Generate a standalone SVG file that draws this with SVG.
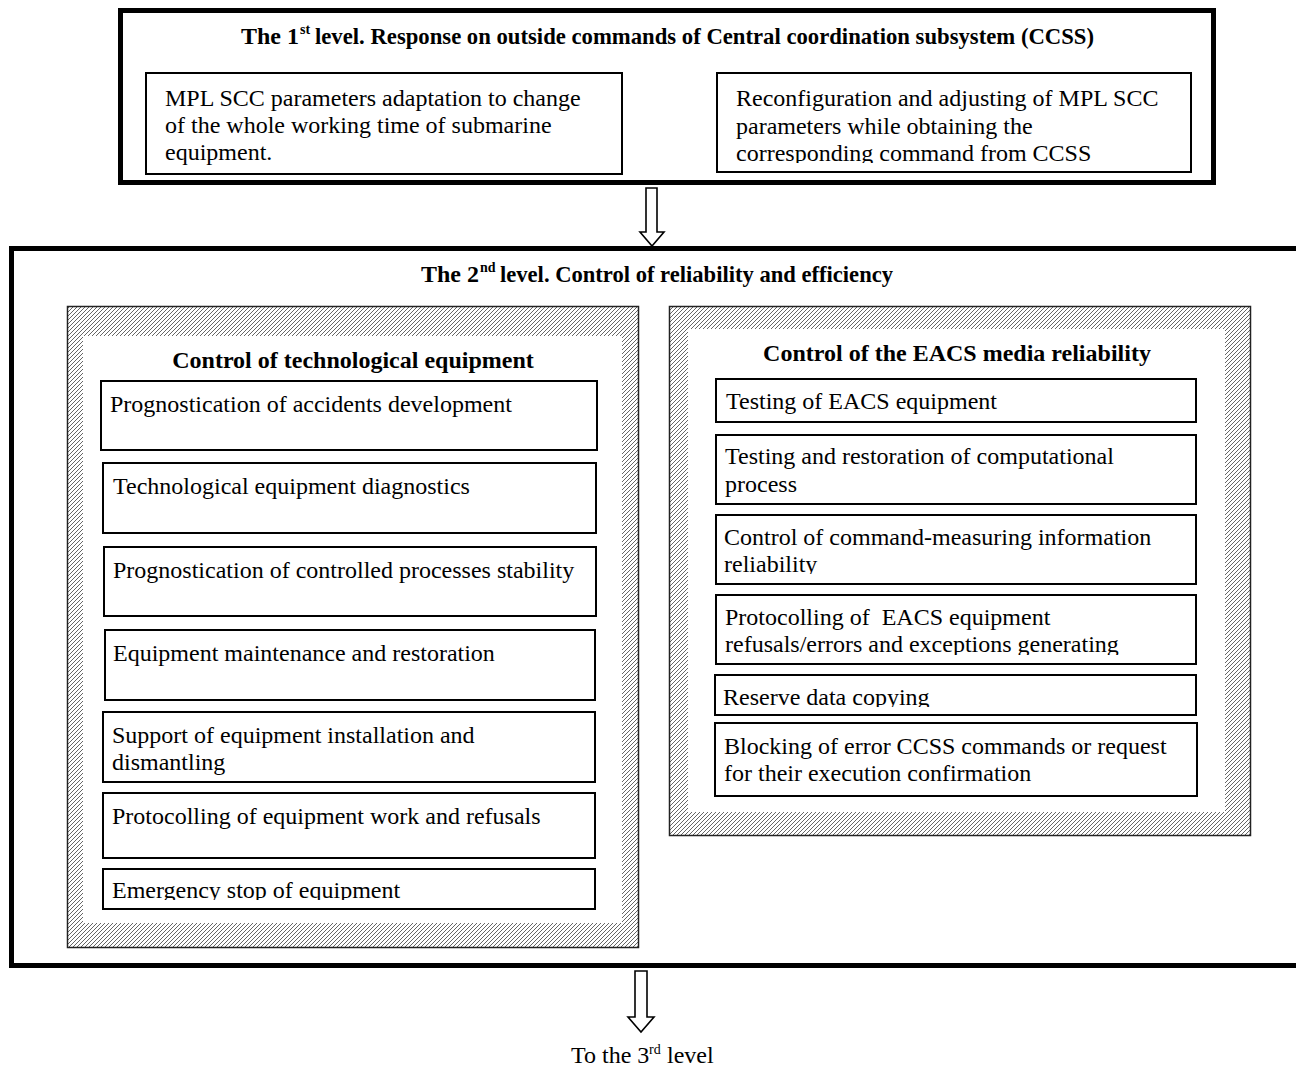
<svg xmlns="http://www.w3.org/2000/svg" width="1296" height="1066" viewBox="0 0 1296 1066">
<defs>
<style>
text{font-family:"Liberation Serif","Times New Roman",serif;fill:#000}
.t{font-size:24px}
.b{font-weight:bold;font-size:24px}
.sup{font-size:14px}
.lvl{fill:none;stroke:#000;stroke-width:5}
.box{fill:#fff;stroke:#000;stroke-width:2}
.panel{fill:url(#hatch);stroke:#222;stroke-width:1.5}
.inner{fill:#fff;stroke:none}
.arrow{fill:#fff;stroke:#000;stroke-width:1.6;stroke-linejoin:miter}
</style>
<pattern id="hatch" patternUnits="userSpaceOnUse" width="4" height="4">
<rect width="4" height="4" fill="#fff"/>
<path d="M-1,1 L1,-1 M0,4 L4,0 M3,5 L5,3" stroke="#555" stroke-width="0.9"/>
</pattern>
<clipPath id="c1"><rect x="700" y="60" width="500" height="103"/></clipPath>
<clipPath id="c2"><rect x="700" y="520" width="500" height="54"/></clipPath>
<clipPath id="c3"><rect x="700" y="600" width="500" height="55"/></clipPath>
<clipPath id="c4"><rect x="700" y="680" width="500" height="27"/></clipPath>
<clipPath id="c5"><rect x="90" y="870" width="510" height="30"/></clipPath>
</defs>
<rect width="1296" height="1066" fill="#fff"/>

<g id="level1">
<rect class="lvl" x="120.5" y="10.5" width="1093" height="172"/>
<text class="b" x="241" y="44">The 1</text>
<text class="b sup" x="300" y="34">st</text>
<text class="b" x="315" y="44" textLength="779" lengthAdjust="spacingAndGlyphs">level. Response on outside commands of Central coordination subsystem (CCSS)</text>
</g>
<g id="l1-adaptation">
<rect class="box" x="146" y="73" width="476" height="101"/>
<text class="t" x="165" y="106">MPL SCC parameters adaptation to change</text>
<text class="t" x="165" y="133">of the whole working time of submarine</text>
<text class="t" x="165" y="160">equipment.</text>
</g>
<g id="l1-reconfiguration">
<rect class="box" x="717" y="73" width="474" height="99"/>
<text class="t" x="736" y="106">Reconfiguration and adjusting of MPL SCC</text>
<text class="t" x="736" y="134">parameters while obtaining the</text>
<text class="t" x="736" y="161" clip-path="url(#c1)">corresponding command from CCSS</text>
</g>

<g id="level2">
<rect class="lvl" x="11.5" y="248.5" width="1300" height="717"/>
<text class="b" x="421" y="282">The 2</text>
<text class="b sup" x="480" y="272">nd</text>
<text class="b" x="500" y="282" textLength="393" lengthAdjust="spacingAndGlyphs">level. Control of reliability and efficiency</text>
</g>

<g id="panel-tech">
<rect class="panel" x="67.5" y="306.5" width="571" height="641"/>
<rect class="inner" x="83" y="336" width="539" height="587"/>
<text class="b" x="353" y="368" text-anchor="middle">Control of technological equipment</text>
</g>
<g id="t1"><rect class="box" x="101" y="381" width="496" height="69"/><text class="t" x="110" y="412">Prognostication of accidents development</text></g>
<g id="t2"><rect class="box" x="103" y="463" width="493" height="70"/><text class="t" x="113" y="494">Technological equipment diagnostics</text></g>
<g id="t3"><rect class="box" x="104" y="547" width="492" height="69"/><text class="t" x="113" y="578">Prognostication of controlled processes stability</text></g>
<g id="t4"><rect class="box" x="105" y="630" width="490" height="70"/><text class="t" x="113" y="661">Equipment maintenance and restoration</text></g>
<g id="t5"><rect class="box" x="103" y="712" width="492" height="70"/><text class="t" x="112" y="743">Support of equipment installation and</text><text class="t" x="112" y="770">dismantling</text></g>
<g id="t6"><rect class="box" x="103" y="793" width="492" height="65"/><text class="t" x="112" y="824">Protocolling of equipment work and refusals</text></g>
<g id="t7"><rect class="box" x="103" y="869" width="492" height="40"/><text class="t" x="112" y="898" clip-path="url(#c5)">Emergency stop of equipment</text></g>

<g id="panel-eacs">
<rect class="panel" x="669.5" y="306.5" width="581" height="529"/>
<rect class="inner" x="688" y="329" width="537" height="483"/>
<text class="b" x="957" y="361" text-anchor="middle">Control of the EACS media reliability</text>
</g>
<g id="e1"><rect class="box" x="716" y="379" width="480" height="43"/><text class="t" x="726" y="409">Testing of EACS equipment</text></g>
<g id="e2"><rect class="box" x="716" y="435" width="480" height="69"/><text class="t" x="725" y="464">Testing and restoration of computational</text><text class="t" x="725" y="492">process</text></g>
<g id="e3"><rect class="box" x="716" y="515" width="480" height="69"/><text class="t" x="724" y="545">Control of command-measuring information</text><text class="t" x="724" y="572" clip-path="url(#c2)">reliability</text></g>
<g id="e4"><rect class="box" x="716" y="595" width="480" height="69"/><text class="t" x="725" y="625" xml:space="preserve">Protocolling of  EACS equipment</text><text class="t" x="725" y="652" clip-path="url(#c3)">refusals/errors and exceptions generating</text></g>
<g id="e5"><rect class="box" x="715" y="675" width="481" height="40"/><text class="t" x="723" y="705" clip-path="url(#c4)">Reserve data copying</text></g>
<g id="e6"><rect class="box" x="715" y="723" width="482" height="73"/><text class="t" x="724" y="754">Blocking of error CCSS commands or request</text><text class="t" x="724" y="781">for their execution confirmation</text></g>

<g id="connectors">
<polygon class="arrow" points="646,188 657,188 657,232 664,232 652,246 640,232 646,232"/>
<polygon class="arrow" points="635,971 647,971 647,1017 654,1017 641,1032 628,1017 635,1017"/>
</g>

<g id="to-level3">
<text class="t" x="571" y="1063">To the 3</text>
<text class="t sup" x="649" y="1054">rd</text>
<text class="t" x="667" y="1063">level</text>
</g>
</svg>
